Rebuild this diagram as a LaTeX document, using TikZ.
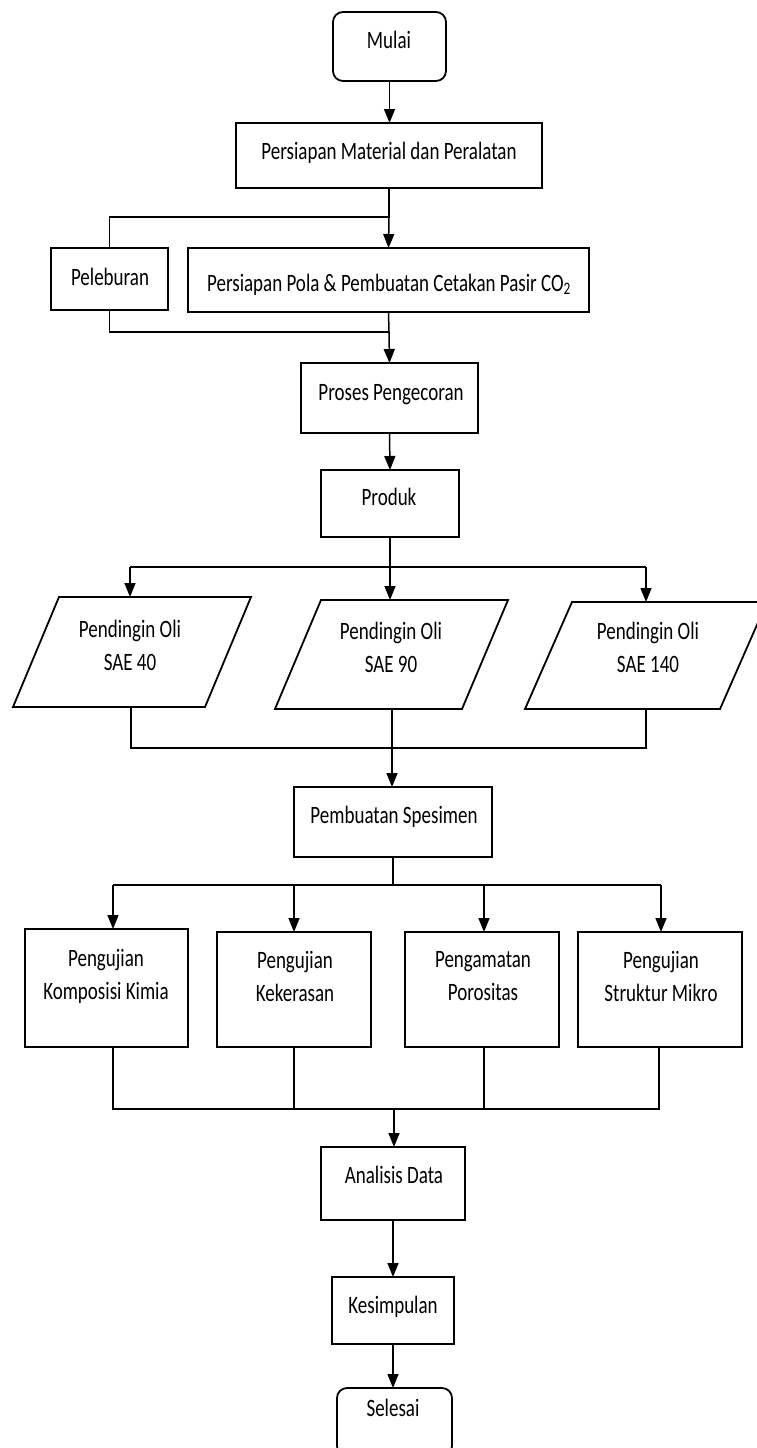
\documentclass[tikz,border=0pt]{standalone}
\usepackage{fontspec}
\setmainfont{Carlito}[FakeStretch=0.76]
\usetikzlibrary{arrows.meta}
\begin{document}
\begin{tikzpicture}[x=1pt,y=-1pt,
  box/.style={draw, line width=1.8pt, rectangle, inner sep=0pt, outer sep=0pt},
  rbox/.style={box, rounded corners=10pt},
  pline/.style={draw, line width=1.8pt, line join=miter},
  txt/.style={font=\fontsize{25}{33}\selectfont, inner sep=0pt, align=center},
  stxt/.style={txt, text height=18pt, text depth=2pt},
  conn/.style={line width=1.5pt},
  arr/.style={conn, -{Triangle[width=11pt,length=14pt]}}]
\useasboundingbox (0,0) rectangle (757,1448);

% boxes
\node[rbox, minimum width=113pt, minimum height=69pt] (mulai) at (389.5,46.5) {};
\node[box, minimum width=306pt, minimum height=65pt] (pm) at (389,155.5) {};
\node[box, minimum width=117pt, minimum height=62pt] (pel) at (109.5,279) {};
\node[box, minimum width=401pt, minimum height=64pt] (pola) at (388.5,280) {};
\node[box, minimum width=177pt, minimum height=70pt] (proses) at (389.5,398) {};
\node[box, minimum width=138pt, minimum height=67pt] (produk) at (390,503.5) {};
\node[box, minimum width=198pt, minimum height=70pt] (spes) at (393,822) {};
\node[box, minimum width=163pt, minimum height=118pt] (t1) at (106.5,988) {};
\node[box, minimum width=154pt, minimum height=115pt] (t2) at (294,989.5) {};
\node[box, minimum width=154pt, minimum height=115pt] (t3) at (482,989.5) {};
\node[box, minimum width=164pt, minimum height=115pt] (t4) at (660,989.5) {};
\node[box, minimum width=144pt, minimum height=73pt] (ana) at (393,1183.5) {};
\node[box, minimum width=122pt, minimum height=67pt] (kes) at (393,1310.5) {};
\node[rbox, minimum width=115pt, minimum height=68pt] (sel) at (394.5,1422) {};

% parallelograms
\draw[pline] (59,597) -- (251,597) -- (205,707) -- (13,707) -- cycle;
\draw[pline] (321,600) -- (508,600) -- (462,709) -- (275,709) -- cycle;
\draw[pline] (572,602) -- (767,602) -- (720,709) -- (525,709) -- cycle;
\coordinate (p1t) at (130,597);
\coordinate (p2t) at (390,600);
\coordinate (p3t) at (646,602);
\coordinate (p1b) at (131,707);
\coordinate (p2b) at (392,709);
\coordinate (p3b) at (646,709);

% texts
\node[stxt] (tmulai) at (389,40) {Mulai};
\node[stxt] (tpm) at (389,151) {Persiapan Material dan Peralatan};
\node[stxt] (tpel) at (110,277) {Peleburan};
\node[stxt] (tpola) at (389,283) {Persiapan Pola \& Pembuatan Cetakan Pasir CO\textsubscript{2}};
\node[stxt] (tproses) at (391,392) {Proses Pengecoran};
\node[stxt] (tproduk) at (389,497) {Produk};
\node[txt] (tp1) at (130,645) {Pendingin Oli\\SAE 40};
\node[txt] (tp2) at (391,647) {Pendingin Oli\\SAE 90};
\node[txt] (tp3) at (648,647) {Pendingin Oli\\SAE 140};
\node[stxt] (tspes) at (394,815) {Pembuatan Spesimen};
\node[txt] (tt1) at (106,976) {Pengujian\\Komposisi Kimia};
\node[txt] (tt2) at (295,976) {Pengujian\\Kekerasan};
\node[txt] (tt3) at (483,976) {Pengamatan\\Porositas};
\node[txt] (tt4) at (661,976) {Pengujian\\Struktur Mikro};
\node[stxt] (tana) at (394,1175) {Analisis Data};
\node[stxt] (tkes) at (393,1305) {Kesimpulan};
\node[stxt] (tsel) at (393,1408) {Selesai};

% connectors
\draw[arr] (mulai.south) -- (mulai.south |- pm.north);
\coordinate (j1) at (389,217);
\draw[conn] (pm.south) -- (j1) -- (pel.north |- j1) -- (pel.north);
\draw[arr] (j1) -- (pola.north);
\coordinate (j2) at (389,332);
\draw[conn] (pel.south) -- (pel.south |- j2) -- (j2);
\draw[conn] (pola.south) -- (j2);
\draw[arr] (j2) -- (proses.north);
\draw[arr] (proses.south) -- (produk.north);
\coordinate (j3) at (390,567);
\draw[conn] (produk.south) -- (j3);
\draw[conn] (p1t |- j3) -- (p3t |- j3);
\draw[arr] (p1t |- j3) -- (p1t);
\draw[arr] (j3) -- (p2t);
\draw[arr] (p3t |- j3) -- (p3t);
\coordinate (j4) at (392,748);
\draw[conn] (p1b) -- (p1b |- j4) -- (p3b |- j4) -- (p3b);
\draw[conn] (p2b) -- (j4);
\draw[arr] (j4) -- (j4 |- spes.north);
\coordinate (j5) at (393,885);
\coordinate (j5l) at (113,885);
\coordinate (j5r) at (661,885);
\draw[conn] (spes.south) -- (j5);
\draw[conn] (j5l) -- (j5r);
\draw[arr] (j5l) -- (j5l |- t1.north);
\draw[arr] (t2.north |- j5) -- (t2.north);
\draw[arr] (484,885) -- (484,932);
\draw[arr] (j5r) -- (j5r |- t4.north);
\coordinate (j6) at (394,1109);
\coordinate (j6l) at (113,1109);
\coordinate (j6r) at (659,1109);
\draw[conn] (t1.south -| j6l) -- (j6l) -- (j6r) -- (t4.south -| j6r);
\draw[conn] (t2.south) -- (t2.south |- j6);
\draw[conn] (t3.south -| 484,0) -- (484,1109);
\draw[arr] (j6) -- (j6 |- ana.north);
\draw[arr] (ana.south) -- (kes.north);
\draw[arr] (kes.south) -- (kes.south |- sel.north);
\end{tikzpicture}
\end{document}
